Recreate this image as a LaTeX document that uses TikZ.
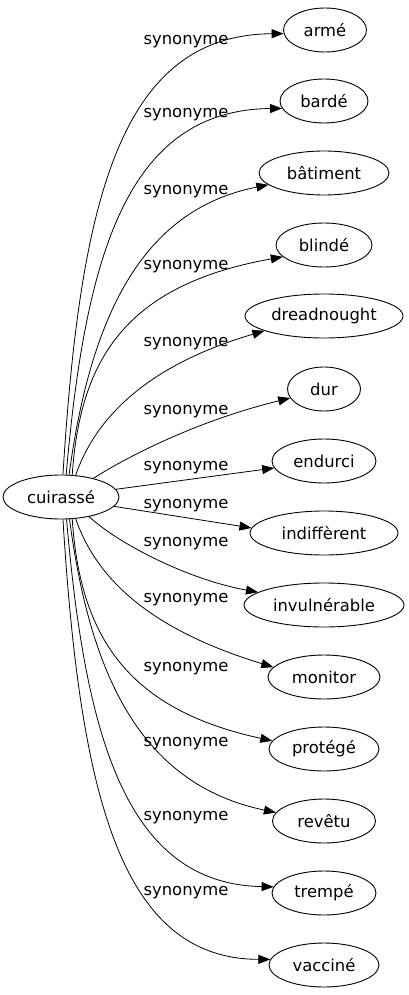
\documentclass[tikz,border=0pt]{standalone}
\usepackage{fontspec}
\setmainfont{DejaVu Sans}
\usetikzlibrary{shapes.geometric,arrows.meta}
\def\wordnode{\node[ellipse,draw,line width=0.9pt,inner sep=0pt,minimum height=44pt]}
\def\synnode{\node[anchor=base,inner sep=0pt]}
\def\drawsyn{\draw[line width=0.8pt,-{Triangle[length=12pt,width=9pt]}]}

\begin{document}
\begin{tikzpicture}[x=1pt,y=-1pt,font=\fontsize{16.4}{19}\selectfont]
\useasboundingbox (0,0) rectangle (409,995);
\wordnode[minimum width=116pt] (c) at (61,497) {cuirassé};
\wordnode[minimum width=83pt] (arme) at (325,30) {armé};
\wordnode[minimum width=88pt] (barde) at (324,101) {bardé};
\wordnode[minimum width=130pt] (batiment) at (324,173) {bâtiment};
\wordnode[minimum width=96pt] (blinde) at (324,245) {blindé};
\wordnode[minimum width=158pt] (dread) at (324,316) {dreadnought};
\wordnode[minimum width=73pt] (dur) at (324,389) {dur};
\wordnode[minimum width=104pt] (endurci) at (324,461) {endurci};
\wordnode[minimum width=148pt] (indiff) at (324,533) {indiffèrent};
\wordnode[minimum width=160pt] (invul) at (324,605) {invulnérable};
\wordnode[minimum width=112pt] (monitor) at (324,677) {monitor};
\wordnode[minimum width=110pt] (protege) at (324,749) {protégé};
\wordnode[minimum width=103pt] (revetu) at (324,821) {revêtu};
\wordnode[minimum width=104pt] (trempe) at (324,893) {trempé};
\wordnode[minimum width=110pt] (vaccine) at (324,965) {vacciné};
% labels
\synnode (sarme) at (186,44.5) {synonyme};
\synnode (sbarde) at (186,117.5) {synonyme};
\synnode (sbatiment) at (186,194.5) {synonyme};
\synnode (sblinde) at (186,269.5) {synonyme};
\synnode (sdread) at (186,346.5) {synonyme};
\synnode (sdur) at (186,414.5) {synonyme};
\synnode (sendurci) at (186,470.5) {synonyme};
\synnode (sindiff) at (186,508) {synonyme};
\synnode (sinvul) at (186,546) {synonyme};
\synnode (smonitor) at (186,602.5) {synonyme};
\synnode (sprotege) at (186,671.5) {synonyme};
\synnode (srevetu) at (186,746.5) {synonyme};
\synnode (strempe) at (186,820.5) {synonyme};
\synnode (svaccine) at (186,895.5) {synonyme};
% edges
\drawsyn (c.85) .. controls (80,200) and (120,35) .. (arme.185);
\drawsyn (c.77) .. controls (85,260) and (125,110) .. (barde.190);
\drawsyn (c.70) .. controls (90,320) and (140,210) .. (batiment.192);
\drawsyn (c.63) .. controls (80,360) and (125,285) .. (blinde.196);
\drawsyn (c.56) .. controls (100,405) and (165,360) .. (dread.194);
\drawsyn (c.30) .. controls (130,455) and (200,420) .. (dur.195);
\drawsyn (c.8) -- (endurci.188);
\drawsyn (c.350) -- (indiff.176);
\drawsyn (c.325) .. controls (120,545) and (190,580) .. (invul.169);
\drawsyn (c.304) .. controls (100,589) and (165,634) .. (monitor.169);
\drawsyn (c.297) .. controls (80,634) and (125,709) .. (protege.171);
\drawsyn (c.291) .. controls (90,674) and (140,784) .. (revetu.170);
\drawsyn (c.284) .. controls (85,734) and (125,884) .. (trempe.173);
\drawsyn (c.275) .. controls (80,794) and (120,959) .. (vaccine.174);
\end{tikzpicture}
\end{document}
